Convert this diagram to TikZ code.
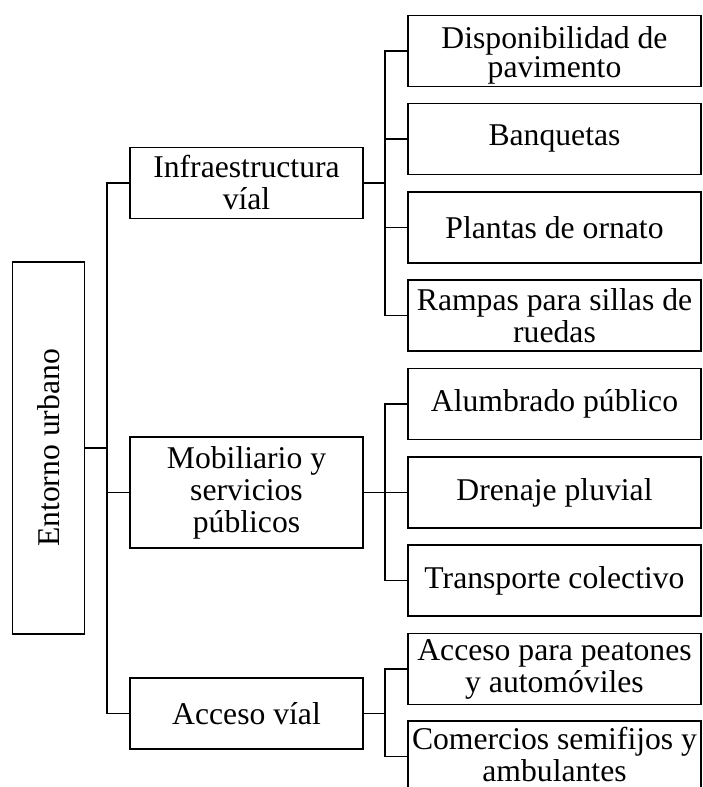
\documentclass[tikz,border=0pt]{standalone}
\usepackage{fontspec}
\setmainfont{Liberation Serif}
\begin{document}
\begin{tikzpicture}[x=0.75pt,y=-0.75pt,
  txt/.style={inner sep=0pt,align=center,font=\fontsize{23.75}{24}\selectfont},
  box/.style={txt,draw=black,line width=1.4pt,rectangle},
  midbox/.style={box,minimum width=233*0.75pt},
  leafbox/.style={box,minimum width=293*0.75pt,minimum height=71*0.75pt},
  link/.style={line width=1.4pt,line cap=rect}]
\useasboundingbox (0,0) rectangle (702,787);
\clip (0,0) rectangle (702,787);
% root
\node[box,minimum width=72*0.75pt,minimum height=372*0.75pt] (root) at (48.5,448) {};
\node[txt,rotate=90] (roottext) at (root.center) {Entorno urbano};
% middle level
\node[midbox,minimum height=71*0.75pt] (infra) at (246.5,183) {Infraestructura\\víal};
\node[midbox,minimum height=111*0.75pt] (mob) at (246.5,492.5) {Mobiliario y\\servicios\\públicos};
\node[midbox,minimum height=71*0.75pt] (acc) at (246.5,713.5) {Acceso víal};
% leaves
\node[leafbox] (disp) at (554.5,51) {};
\node[txt,font=\fontsize{23.75}{20.5}\selectfont] (disptext) at (554.5,55) {Disponibilidad de\\pavimento};
\node[leafbox] (banq) at (554.5,139) {Banquetas};
\node[leafbox] (plant) at (554.5,227.5) {Plantas de ornato};
\node[leafbox] (ramp) at (554.5,315.5) {Rampas para sillas de\\ruedas};
\node[leafbox] (alum) at (554.5,404) {Alumbrado público};
\node[leafbox] (dren) at (554.5,492.5) {Drenaje pluvial};
\node[leafbox] (trans) at (554.5,580.5) {Transporte colectivo};
\node[leafbox] (peat) at (554.5,669) {Acceso para peatones\\y automóviles};
\node[leafbox] (com) at (554.5,756.5) {};
\node[txt] (comtext) at (554.5,754) {Comercios semifijos y\\ambulantes};
% guide coordinates for the elbow lines
\coordinate (tx) at (107,0);
\coordinate (lx) at (385,0);
% root to middle
\draw[link] (root.east) -- (root.east -| tx);
\draw[link] (infra.west -| tx) -- (acc.west -| tx);
\draw[link] (infra.west -| tx) -- (infra.west);
\draw[link] (mob.west -| tx) -- (mob.west);
\draw[link] (acc.west -| tx) -- (acc.west);
% infra group
\draw[link] (infra.east) -- (infra.east -| lx);
\draw[link] (disp.west -| lx) -- (ramp.west -| lx);
\foreach \n in {disp,banq,plant,ramp}{\draw[link] (\n.west -| lx) -- (\n.west);}
% mob group
\draw[link] (mob.east) -- (mob.east -| lx);
\draw[link] (alum.west -| lx) -- (trans.west -| lx);
\foreach \n in {alum,dren,trans}{\draw[link] (\n.west -| lx) -- (\n.west);}
% acc group
\draw[link] (acc.east) -- (acc.east -| lx);
\draw[link] (peat.west -| lx) -- (com.west -| lx);
\foreach \n in {peat,com}{\draw[link] (\n.west -| lx) -- (\n.west);}
\end{tikzpicture}
\end{document}
